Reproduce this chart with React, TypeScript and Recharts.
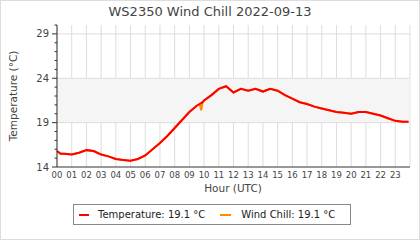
import React from 'react';
import {
  CartesianGrid,
  Line,
  LineChart,
  ReferenceArea,
  ReferenceLine,
  XAxis,
  YAxis
} from 'recharts';

// hours of the day (UTC) and readings in °C
const hours = [
  0, 0.25, 0.5, 1, 1.5, 2, 2.5, 3, 3.5, 4, 4.5, 5, 5.5, 6, 6.5, 7, 7.5, 8, 8.5, 9,
  9.5, 9.7, 9.8, 9.9, 10, 10.5, 11, 11.5, 12, 12.5, 13, 13.5, 14, 14.5, 15, 15.5,
  16, 16.5, 17, 17.5, 18, 18.5, 19, 19.5, 20, 20.5, 21, 21.5, 22, 22.5, 23, 23.5, 23.9
];
const temperature = [
  15.8, 15.5, 15.5, 15.4, 15.6, 15.9, 15.8, 15.4, 15.2, 14.9, 14.8, 14.7, 14.9, 15.3,
  16.0, 16.7, 17.5, 18.4, 19.3, 20.2, 20.9, 21.1, 21.2, 21.3, 21.5, 22.1, 22.8, 23.1,
  22.4, 22.8, 22.6, 22.8, 22.5, 22.8, 22.6, 22.1, 21.7, 21.3, 21.1, 20.8, 20.6, 20.4,
  20.2, 20.1, 20.0, 20.2, 20.2, 20.0, 19.8, 19.5, 19.2, 19.1, 19.1
];
const windChill = [
  15.8, 15.5, 15.5, 15.4, 15.6, 15.9, 15.8, 15.4, 15.2, 14.9, 14.8, 14.7, 14.9, 15.3,
  16.0, 16.7, 17.5, 18.4, 19.3, 20.2, 20.9, 21.1, 20.4, 21.3, 21.5, 22.1, 22.8, 23.1,
  22.4, 22.8, 22.6, 22.8, 22.5, 22.8, 22.6, 22.1, 21.7, 21.3, 21.1, 20.8, 20.6, 20.4,
  20.2, 20.1, 20.0, 20.2, 20.2, 20.0, 19.8, 19.5, 19.2, 19.1, 19.1
];
const hourTicks = Array.from({ length: 24 }, (_, i) => i);
const tempTicks = Array.from({ length: 17 }, (_, i) => 14 + i);
const labelledTemps = [14, 19, 24, 29];

const data = hours.map((h, i) => ({
  hour: h,
  temperature: temperature[i],
  windChill: windChill[i]
}));

const FONT = '"DejaVu Sans", sans-serif';
const TEXT = '#444';

const YTick = (props: any) => {
  const { x, y, payload } = props;
  const major = labelledTemps.includes(payload.value);
  return (
    <g>
      <line x1={x - (major ? 5 : 2.5)} x2={x} y1={y} y2={y} stroke="#333" />
      {major && (
        <text x={x - 8} y={y + 3.5} textAnchor="end" fontSize={10} fill={TEXT} fontFamily={FONT}>
          {payload.value}
        </text>
      )}
    </g>
  );
};

const LegendBox = () => (
  <div
    style={{
      position: 'absolute',
      left: 72,
      top: 203,
      width: 278,
      height: 21,
      boxSizing: 'border-box',
      border: '1px solid #888',
      background: '#fff',
      fontFamily: FONT,
      fontSize: 10,
      color: '#222',
      display: 'flex',
      alignItems: 'center'
    }}
  >
    <span style={{ marginLeft: 5, width: 10, height: 2, background: '#ff0000' }} />
    <span style={{ marginLeft: 9 }}>Temperature: 19.1 °C</span>
    <span style={{ marginLeft: 15, width: 11, height: 2, background: '#ff8c00' }} />
    <span style={{ marginLeft: 10 }}>Wind Chill: 19.1 °C</span>
  </div>
);

export default function App() {
  return (
    <div
      style={{
        position: 'absolute',
        left: 0,
        top: 0,
        width: 420,
        height: 240,
        boxSizing: 'border-box',
        border: '1px solid #ddd',
        background: '#fff'
      }}
    >
      <div style={{ position: 'absolute', left: -1, top: -1 }}>
        <LineChart
          width={420}
          height={240}
          data={data}
          margin={{ top: 25, right: 10, left: 0, bottom: 53 }}
        >
          <ReferenceArea y1={19} y2={24} fill="#f5f5f5" fillOpacity={1} stroke="none" />
          <CartesianGrid horizontal={false} stroke="#ddd" />
          <ReferenceLine y={19} stroke="#ddd" />
          <ReferenceLine y={24} stroke="#ddd" />
          <ReferenceLine y={29} stroke="#ddd" />
          <XAxis
            dataKey="hour"
            type="number"
            domain={[0, 24]}
            ticks={hourTicks}
            tickFormatter={(v: number) => String(v).padStart(2, '0')}
            tickLine={false}
            tickSize={0}
            tickMargin={5}
            height={20}
            axisLine={{ stroke: '#333' }}
            tick={{ fontSize: 8.5, fill: TEXT, fontFamily: FONT }}
            interval={0}
          />
          <YAxis
            type="number"
            domain={[14, 30]}
            ticks={tempTicks}
            interval={0}
            width={57}
            tickSize={0}
            tickMargin={0}
            axisLine={{ stroke: '#333' }}
            tick={<YTick />}
          />
          <Line
            type="linear"
            dataKey="windChill"
            stroke="#ff8c00"
            strokeWidth={2}
            dot={false}
            isAnimationActive={false}
          />
          <Line
            type="linear"
            dataKey="temperature"
            stroke="#ff0000"
            strokeWidth={2}
            dot={false}
            isAnimationActive={false}
          />
          <text x={210} y={16} textAnchor="middle" fontSize={13} fill={TEXT} fontFamily={FONT}>
            WS2350 Wind Chill 2022-09-13
          </text>
          <text
            x={17}
            y={96}
            textAnchor="middle"
            fontSize={10.5}
            fill={TEXT}
            fontFamily={FONT}
            transform="rotate(-90 17 96)"
          >
            Temperature (°C)
          </text>
          <text x={233} y={192} textAnchor="middle" fontSize={10.5} fill={TEXT} fontFamily={FONT}>
            Hour (UTC)
          </text>
        </LineChart>
      </div>
      <LegendBox />
    </div>
  );
}
